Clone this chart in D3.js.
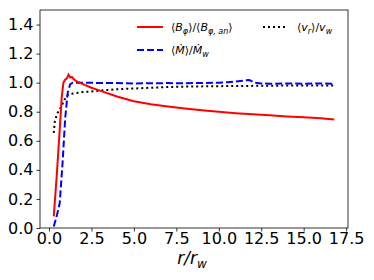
<!DOCTYPE html>
<html>
<head>
<meta charset="utf-8">
<script src="https://cdn.jsdelivr.net/npm/d3@7"></script>
<style>
  body { margin: 0; background: #fff; }
  svg { font-family: "DejaVu Sans", sans-serif; }
</style>
</head>
<body>
<svg id="chart" width="374" height="280"></svg>
<script>
const width = 374;
const height = 280;

// data
const rB = [0.28, 0.45, 0.6, 0.75, 0.85, 0.95, 1.05, 1.15, 1.25, 1.35, 1.45, 1.6, 2.0, 2.5, 3.0, 4.0, 5.0, 6.0, 7.0, 8.0, 9.0, 10.0, 11.0, 12.0, 13.0, 14.0, 15.0, 16.0, 16.8];
const bPhi = [0.08, 0.35, 0.62, 0.9, 1.0, 1.02, 1.03, 1.055, 1.035, 1.04, 1.025, 1.01, 0.99, 0.965, 0.945, 0.905, 0.872, 0.852, 0.836, 0.822, 0.81, 0.8, 0.79, 0.782, 0.775, 0.768, 0.762, 0.755, 0.747];

const rM = [0.28, 0.45, 0.63, 0.8, 0.95, 1.1, 1.25, 1.4, 1.6, 2.0, 3, 4, 5, 6, 7, 8, 9, 10, 10.5, 11, 11.5, 11.8, 12.1, 12.5, 13, 14, 15, 16, 16.8];
const mDot = [0.01, 0.08, 0.17, 0.45, 0.75, 0.93, 0.99, 1.0, 1.0, 1.0, 0.998, 0.997, 0.995, 0.996, 0.997, 0.996, 0.998, 1.0, 1.003, 1.008, 1.015, 1.018, 1.0, 0.995, 0.993, 0.994, 0.993, 0.994, 0.993];

const rV = [0.28, 0.35, 0.5, 0.7, 0.9, 1.1, 1.4, 2, 3, 4, 5, 6, 7, 8, 10, 12, 14, 16, 16.8];
const vR = [0.655, 0.74, 0.79, 0.83, 0.88, 0.915, 0.925, 0.935, 0.945, 0.955, 0.96, 0.965, 0.97, 0.973, 0.976, 0.978, 0.98, 0.98, 0.98];

const xTicks = [0, 2.5, 5, 7.5, 10, 12.5, 15, 17.5];
const yTicks = [0, 0.2, 0.4, 0.6, 0.8, 1.0, 1.2, 1.4];

const margin = { left: 40, right: 26, top: 10, bottom: 52 };

const svg = d3.select("#chart");

const x = d3.scaleLinear().domain([-0.53, 17.61]).range([margin.left, width - margin.right]);
const y = d3.scaleLinear().domain([0, 1.5]).range([height - margin.bottom, margin.top]);

// axes
const xAxis = svg.append("g")
  .attr("transform", `translate(0,${height - margin.bottom})`)
  .call(d3.axisBottom(x).tickValues(xTicks).tickFormat(d3.format(".1f")).tickSize(3.5).tickPadding(1));
const yAxis = svg.append("g")
  .attr("transform", `translate(${margin.left},0)`)
  .call(d3.axisLeft(y).tickValues(yTicks).tickFormat(d3.format(".1f")).tickSize(3.5).tickPadding(3));

[xAxis, yAxis].forEach((g) => {
  g.select(".domain").remove();
  g.selectAll("text").attr("font-size", 16).attr("fill", "#000").attr("font-family", "DejaVu Sans");
  g.selectAll("line").attr("stroke", "#000").attr("stroke-width", 0.8);
});

// frame
svg.append("rect")
  .attr("x", margin.left)
  .attr("y", margin.top)
  .attr("width", width - margin.left - margin.right)
  .attr("height", height - margin.top - margin.bottom)
  .attr("fill", "none")
  .attr("stroke", "#000")
  .attr("stroke-width", 0.8);

const line = d3.line().x((d) => x(d[0])).y((d) => y(d[1]));

svg.append("path")
  .datum(d3.zip(rV, vR))
  .attr("d", line)
  .attr("fill", "none")
  .attr("stroke", "#000")
  .attr("stroke-width", 2)
  .attr("stroke-dasharray", "2,3");

svg.append("path")
  .datum(d3.zip(rM, mDot))
  .attr("d", line)
  .attr("fill", "none")
  .attr("stroke", "#0000ff")
  .attr("stroke-width", 2)
  .attr("stroke-dasharray", "7,3");

svg.append("path")
  .datum(d3.zip(rB, bPhi))
  .attr("d", line)
  .attr("fill", "none")
  .attr("stroke", "#ff0000")
  .attr("stroke-width", 2);

// x label
const xl = svg.append("text")
  .attr("x", 192)
  .attr("y", 264)
  .attr("text-anchor", "middle")
  .attr("font-size", 17)
  .attr("font-style", "italic");
xl.append("tspan").text("r/r");
xl.append("tspan").attr("font-size", 12).attr("dy", 4).text("w");

// legend
const legend = svg.append("g").attr("font-size", 11);

function legendLine(x1, x2, yy, color, dash) {
  legend.append("line")
    .attr("x1", x1).attr("x2", x2).attr("y1", yy).attr("y2", yy)
    .attr("stroke", color).attr("stroke-width", 2)
    .attr("stroke-dasharray", dash);
}

legendLine(137, 163, 27, "#ff0000", null);
legendLine(137, 163, 50, "#0000ff", "7,3");
legendLine(263, 286, 27, "#000", "2,3");

const t1 = legend.append("text").attr("x", 171).attr("y", 31);
t1.append("tspan").text("⟨");
t1.append("tspan").attr("font-style", "italic").text("B");
t1.append("tspan").attr("font-size", 8).attr("dy", 3).attr("font-style", "italic").text("φ");
t1.append("tspan").attr("dy", -3).text("⟩/⟨");
t1.append("tspan").attr("font-style", "italic").text("B");
t1.append("tspan").attr("font-size", 8).attr("dy", 3).attr("font-style", "italic").text("φ, an");
t1.append("tspan").attr("dy", -3).text("⟩");

const t2 = legend.append("text").attr("x", 171).attr("y", 54);
t2.append("tspan").text("⟨");
t2.append("tspan").attr("font-style", "italic").text("Ṁ");
t2.append("tspan").text("⟩/");
t2.append("tspan").attr("font-style", "italic").text("Ṁ");
t2.append("tspan").attr("font-size", 8).attr("dy", 3).attr("font-style", "italic").text("w");

const t3 = legend.append("text").attr("x", 297).attr("y", 31);
t3.append("tspan").text("⟨");
t3.append("tspan").attr("font-style", "italic").text("v");
t3.append("tspan").attr("font-size", 8).attr("dy", 3).attr("font-style", "italic").text("r");
t3.append("tspan").attr("dy", -3).text("⟩/");
t3.append("tspan").attr("font-style", "italic").text("v");
t3.append("tspan").attr("font-size", 8).attr("dy", 3).attr("font-style", "italic").text("w");
</script>
</body>
</html>
